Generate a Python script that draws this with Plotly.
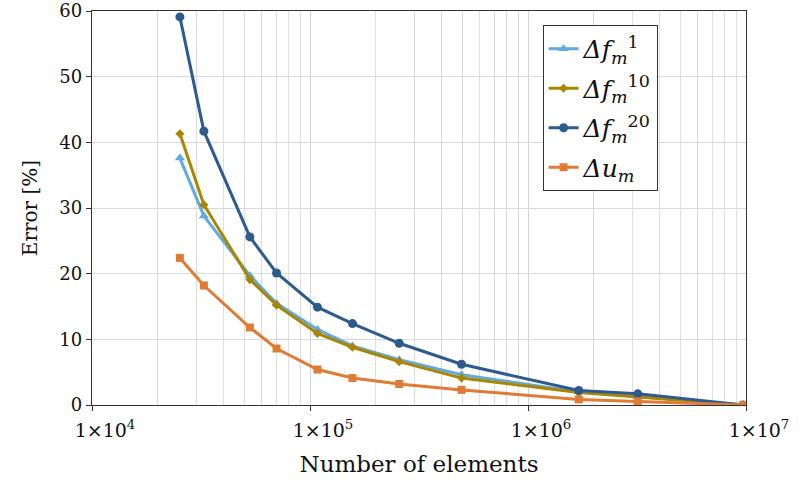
import plotly.graph_objects as go

# Data
n_elements = [25300, 32600, 53000, 70200, 108200, 156600, 256600, 495500, 1.71e6, 3.19e6, 9.7e6]
df_1 = [37.6, 28.8, 19.7, 15.5, 11.5, 9.0, 6.9, 4.6, 2.0, 1.3, 0.0]
df_10 = [41.3, 30.5, 19.1, 15.2, 10.9, 8.8, 6.6, 4.1, 1.9, 1.2, 0.0]
df_20 = [59.1, 41.7, 25.6, 20.1, 14.9, 12.4, 9.4, 6.2, 2.2, 1.7, 0.0]
du = [22.4, 18.2, 11.8, 8.6, 5.4, 4.1, 3.2, 2.3, 0.85, 0.55, 0.0]

x_tickvals = [1e4, 1e5, 1e6, 1e7]
x_ticktext = ["1×10<sup>4</sup>", "1×10<sup>5</sup>", "1×10<sup>6</sup>", "1×10<sup>7</sup>"]
y_tickvals = [0, 10, 20, 30, 40, 50, 60]

names = [
    "<i>Δf<sub>m</sub></i><sup>1</sup>",
    "<i>Δf<sub>m</sub></i><sup>10</sup>",
    "<i>Δf<sub>m</sub></i><sup>20</sup>",
    "<i>Δu<sub>m</sub></i>",
]
series = [df_1, df_10, df_20, du]
colors = ["#62a9dd", "#a98600", "#2d5a8f", "#e07b35"]
symbols = ["triangle-up", "diamond", "circle", "square"]
sizes = [9, 7, 9, 8]

fig = go.Figure()
for i, (nm, ys, c, s, sz) in enumerate(zip(names, series, colors, symbols, sizes)):
    fig.add_trace(go.Scatter(
        x=n_elements, y=ys, name=nm, mode="lines+markers",
        legendgroup=f"g{i}",
        line=dict(color=c, width=3),
        marker=dict(color=c, symbol=s, size=sz),
    ))

font_family = "DejaVu Serif"

fig.update_layout(
    width=799, height=480,
    margin=dict(l=91.5, r=53, t=10.7, b=74.5, autoexpand=False),
    paper_bgcolor="white", plot_bgcolor="white",
    font=dict(family=font_family, size=18, color="#111"),
    showlegend=True,
    legend=dict(
        x=0.689, y=0.9646, xanchor="left", yanchor="top",
        bordercolor="#333", borderwidth=1, bgcolor="white",
        font=dict(size=25, family=font_family),
        itemwidth=30, tracegroupgap=4,
    ),
)

fig.update_xaxes(
    type="log", range=[4, 7], automargin=False,
    tickvals=x_tickvals, ticktext=x_ticktext,
    ticks="outside", ticklen=5, tickcolor="#333",
    ticklabelshift=13, ticklabelstandoff=3, ticklabeloverflow="allow",
    showline=True, linecolor="#333", linewidth=1.3, mirror=True,
    showgrid=True, gridcolor="#d4d4d4", gridwidth=1,
    minor=dict(dtick="D1", showgrid=True, gridcolor="#dedede", gridwidth=1, ticks=""),
    title=dict(text="Number of elements", font=dict(size=23), standoff=15),
    tickfont=dict(size=19),
    zeroline=False,
)
fig.update_yaxes(
    range=[0, 60], tickvals=y_tickvals, automargin=False,
    ticks="outside", ticklen=5, tickcolor="#333",
    showline=True, linecolor="#333", linewidth=1.3, mirror=True,
    showgrid=True, gridcolor="#d9d9d9", gridwidth=1,
    title=dict(text="Error [%]", font=dict(size=20), standoff=16),
    tickfont=dict(size=18),
    zeroline=False,
)

fig.write_html("out.html")
